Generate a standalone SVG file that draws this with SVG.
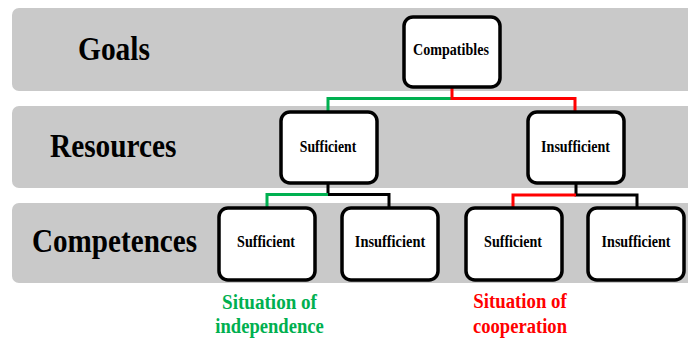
<svg xmlns="http://www.w3.org/2000/svg" width="688" height="340" viewBox="0 0 688 340" font-family="Liberation Serif, DejaVu Serif, serif" font-weight="bold">
<style>
.band{fill:#c9c9c9}
.box{fill:#fff;stroke:#000;stroke-width:3.5}
.c{fill:none;stroke-width:3}
.k{stroke:#000}.g{stroke:#00b050}.r{stroke:#ff0000}
</style>
<g id="bands">
<rect class="band" x="12" y="8" width="690" height="83" rx="7"/>
<rect class="band" x="12" y="106" width="690" height="82" rx="7"/>
<rect class="band" x="12" y="203" width="690" height="80" rx="7"/>
<g font-size="34" fill="#000">
<text transform="translate(78,60) scale(0.866,1)">Goals</text>
<text transform="translate(50,157) scale(0.862,1)">Resources</text>
<text transform="translate(32,252) scale(0.857,1)">Competences</text>
</g>
</g>
<g id="connectors">
<path class="c g" d="M452,98.5 H328 V112"/>
<path class="c r" d="M452,87 V98.5 H575 V112"/>
<path class="c k" d="M328,183 V194.5 H389 V208"/>
<path class="c g" d="M328,194.5 H267 V208"/>
<path class="c k" d="M576,183 V195 H637 V208"/>
<path class="c r" d="M576,195 H513 V208"/>
</g>
<g font-size="16" fill="#000" text-anchor="middle">
<g id="compatibles">
<rect class="box" x="404" y="17" width="96" height="70" rx="9"/>
<text transform="translate(451,55) scale(0.88,1)">Compatibles</text>
</g>
<g id="res-sufficient">
<rect class="box" x="281" y="112" width="96" height="71" rx="9"/>
<text transform="translate(328,152) scale(0.86,1)">Sufficient</text>
</g>
<g id="res-insufficient">
<rect class="box" x="528" y="112" width="96" height="71" rx="9"/>
<text transform="translate(575.5,152) scale(0.88,1)">Insufficient</text>
</g>
<g id="comp-sufficient-1">
<rect class="box" x="219" y="208" width="96" height="72" rx="9"/>
<text transform="translate(266,247) scale(0.88,1)">Sufficient</text>
</g>
<g id="comp-insufficient-1">
<rect class="box" x="342" y="208" width="96" height="72" rx="9"/>
<text transform="translate(390,247) scale(0.9,1)">Insufficient</text>
</g>
<g id="comp-sufficient-2">
<rect class="box" x="466" y="208" width="96" height="72" rx="9"/>
<text transform="translate(513,247) scale(0.88,1)">Sufficient</text>
</g>
<g id="comp-insufficient-2">
<rect class="box" x="588" y="208" width="96" height="72" rx="9"/>
<text transform="translate(636,247) scale(0.88,1)">Insufficient</text>
</g>
</g>
<g id="situations" font-size="20" text-anchor="middle">
<text fill="#00b050" transform="translate(269.5,309) scale(0.955,1)">Situation of</text>
<text fill="#00b050" transform="translate(269.5,333) scale(0.93,1)">independence</text>
<text fill="#ff0000" transform="translate(520,308) scale(0.94,1)">Situation of</text>
<text fill="#ff0000" transform="translate(520,333) scale(0.93,1)">cooperation</text>
</g>
</svg>
